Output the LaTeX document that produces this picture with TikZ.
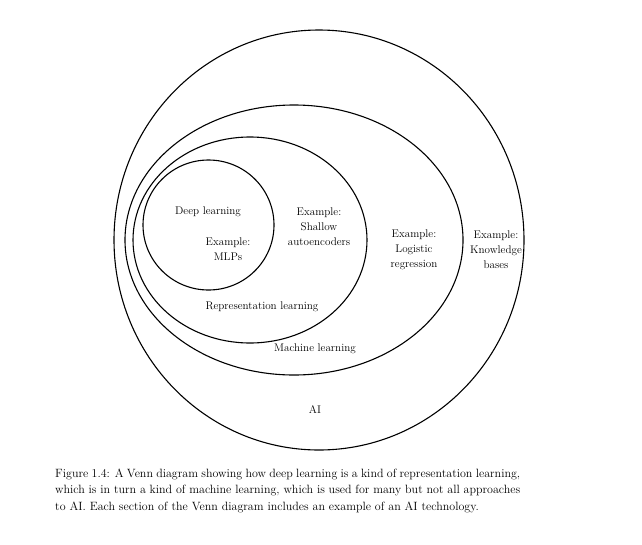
\documentclass[tikz,border=0pt]{standalone}
\usetikzlibrary{shapes.geometric}
\begin{document}
\begin{tikzpicture}[x=1pt,y=-1pt,
  region/.style={draw, ellipse, line width=1.1pt, inner sep=0pt},
  lbl/.style={font=\fontsize{11.1}{15}\selectfont, align=center, inner sep=0pt},
  captiontext/.style={font=\fontsize{12}{16.5}\selectfont, text width=465pt, align=justify, inner sep=0pt, anchor=north west}]
\useasboundingbox (0,0) rectangle (642,544);

% nested regions
\node[region, minimum width=410, minimum height=420] (ai) at (319,240) {};
\node[region, minimum width=338, minimum height=270] (ml) at (294,240) {};
\node[region, minimum width=234, minimum height=206] (rl) at (250,240) {};
\node[region, minimum width=131, minimum height=130] (dl) at (208.5,225) {};

% labels
\node[lbl] (dltext) at (208,212) {Deep learning};
\node[lbl] (dlex) at (228,249) {Example:\\MLPs};
\node[lbl] (rlex) at (319,227) {Example:\\Shallow\\autoencoders};
\node[lbl] (mlex) at (414,249.5) {Example:\\Logistic\\regression};
\node[lbl] (aiex) at (496,249.5) {Example:\\Knowledge\\bases};
\node[lbl] (rltext) at (262,307) {Representation learning};
\node[lbl] (mltext) at (315,349) {Machine learning};
\node[lbl] (aitext) at (315,410) {AI};

% caption
\node[captiontext] (caption) at (55,468.5) {Figure 1.4: A Venn diagram showing how deep learning is a kind of representation learning,\linebreak
which is in turn a kind of machine learning, which is used for many but not all approaches\linebreak
to AI. Each section of the Venn diagram includes an example of an AI technology.};
\end{tikzpicture}
\end{document}
